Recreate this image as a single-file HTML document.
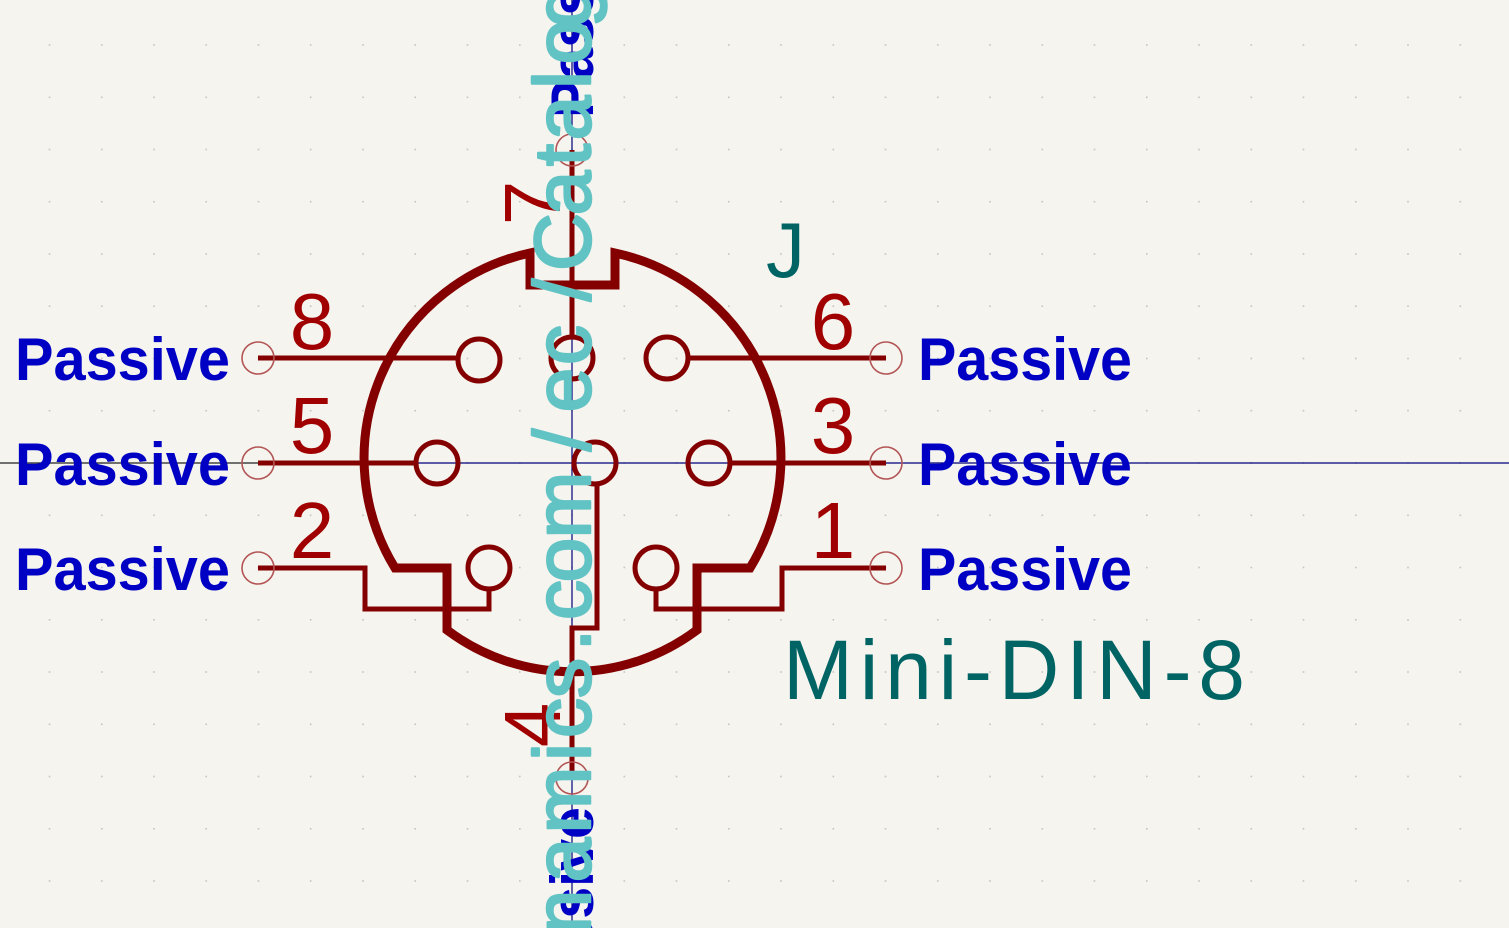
<!DOCTYPE html>
<html><head><meta charset="utf-8"><style>
html,body{margin:0;padding:0;background:#f5f4ef;width:1509px;height:928px;overflow:hidden;}
svg{display:block;}
</style></head><body>
<svg width="1509" height="928" viewBox="0 0 1509 928" xmlns="http://www.w3.org/2000/svg">
<rect width="1509" height="928" fill="#f5f4ef"/>
<g id="grid"></g>
<line x1="0" y1="463" x2="260" y2="463" stroke="#222" stroke-width="1.2"/>
<line x1="260" y1="463" x2="1509" y2="463" stroke="#00007a" stroke-width="1.2"/>
<line x1="572" y1="0" x2="572" y2="928" stroke="#00007a" stroke-width="1.2"/>

<g fill="none" stroke="#840000" stroke-width="9" stroke-linejoin="miter">
<path d="M530 253 A210 210 0 0 0 395 568 L447 568 L447 630 A208 208 0 0 0 697 630 L697 568 L750 568 A210 210 0 0 0 615 253 L615 285 L530 285 Z"/>
</g>
<g fill="none" stroke="#840000" stroke-width="5">
<line x1="258" y1="358" x2="458" y2="358"/>
<line x1="258" y1="463" x2="416" y2="463"/>
<polyline points="258,568 365,568 365,609 489,609 489,589"/>
<line x1="688" y1="358" x2="886" y2="358"/>
<line x1="730" y1="463" x2="886" y2="463"/>
<polyline points="886,568 782,568 782,609 656,609 656,589"/>
<polyline points="572,778 572,628 597,628 597,485"/>
<line x1="572" y1="150" x2="572" y2="337"/>
<circle cx="479" cy="360" r="21"/>
<circle cx="667" cy="358" r="21"/>
<circle cx="437" cy="463" r="21"/>
<circle cx="595" cy="463" r="21"/>
<circle cx="709" cy="463" r="21"/>
<circle cx="572" cy="358" r="21"/>
<circle cx="489" cy="568" r="21"/>
<circle cx="656" cy="568" r="21"/>
</g>
<g fill="none" stroke="#b35555" stroke-width="1.6">
<circle cx="258" cy="358" r="16"/><circle cx="258" cy="463" r="16"/><circle cx="258" cy="568" r="16"/>
<circle cx="886" cy="358" r="16"/><circle cx="886" cy="463" r="16"/><circle cx="886" cy="568" r="16"/>
<circle cx="572" cy="150" r="16"/><circle cx="572" cy="778" r="16"/>
</g>

<g font-family="'Liberation Sans', sans-serif" font-size="80" fill="#a00000" text-anchor="middle">
<text x="312" y="349">8</text>
<text x="312" y="453">5</text>
<text x="312" y="558">2</text>
<text x="833" y="349">6</text>
<text x="833" y="453">3</text>
<text x="833" y="558">1</text>
<text transform="translate(560,203) rotate(-90)">7</text>
<text transform="translate(560,725) rotate(-90)">4</text>
</g>

<g font-family="'Liberation Sans', sans-serif" font-size="60" font-weight="bold" fill="#0000c4">
<text x="15" y="380" textLength="215" lengthAdjust="spacingAndGlyphs">Passive</text>
<text x="15" y="485" textLength="215" lengthAdjust="spacingAndGlyphs">Passive</text>
<text x="15" y="590" textLength="215" lengthAdjust="spacingAndGlyphs">Passive</text>
<text x="918" y="380" textLength="214" lengthAdjust="spacingAndGlyphs">Passive</text>
<text x="918" y="485" textLength="214" lengthAdjust="spacingAndGlyphs">Passive</text>
<text x="918" y="590" textLength="214" lengthAdjust="spacingAndGlyphs">Passive</text>
<text transform="translate(593,118) rotate(-90)" textLength="214" lengthAdjust="spacingAndGlyphs">Passive</text>
<text transform="translate(593,1021) rotate(-90)" textLength="214" lengthAdjust="spacingAndGlyphs">Passive</text>
</g>

<g font-family="'Liberation Sans', sans-serif" fill="#006464">
<text x="766" y="277" font-size="78">J</text>
<text x="783" y="699" font-size="84" textLength="462" lengthAdjust="spacing">Mini-DIN-8</text>
</g>

<g id="url" font-family="'Liberation Sans', sans-serif" font-size="80" fill="#61c3c3" stroke="#61c3c3" stroke-width="2.5" stroke-linejoin="round" text-anchor="middle"></g>
</svg>
<script>
const urlChars = ['n','a','m','i','c','s','.','c','o','m','/','e','c','/','C','a','t','a','l','o','g'];
const urlYs = [912,860,800,752,718,678,640,600,560,505,440,390,345,290,242,193,155,118,80,42,5];
const g = document.getElementById('url');
urlChars.forEach(function(c,i){
  const t = document.createElementNS('http://www.w3.org/2000/svg','text');
  t.setAttribute('transform','translate(590,'+(urlYs[i])+') rotate(-90)');
  t.setAttribute('x','0');
  t.setAttribute('y','0');
  
  
  t.textContent = c;
  g.appendChild(t);
});
const grid = document.getElementById('grid');
const step = 52.25;
for (let x = 572 - step*11; x < 1509; x += step) {
  for (let y = 463 - step*9; y < 928; y += step) {
    if (x < 0 || y < 0) continue;
    const r = document.createElementNS('http://www.w3.org/2000/svg','rect');
    r.setAttribute('x', (x-0.8).toFixed(1));
    r.setAttribute('y', (y-0.8).toFixed(1));
    r.setAttribute('width','1.6');
    r.setAttribute('height','1.6');
    r.setAttribute('fill','#c4c4c4');
    
    
    grid.appendChild(r);
  }
}
</script>
</body></html>
